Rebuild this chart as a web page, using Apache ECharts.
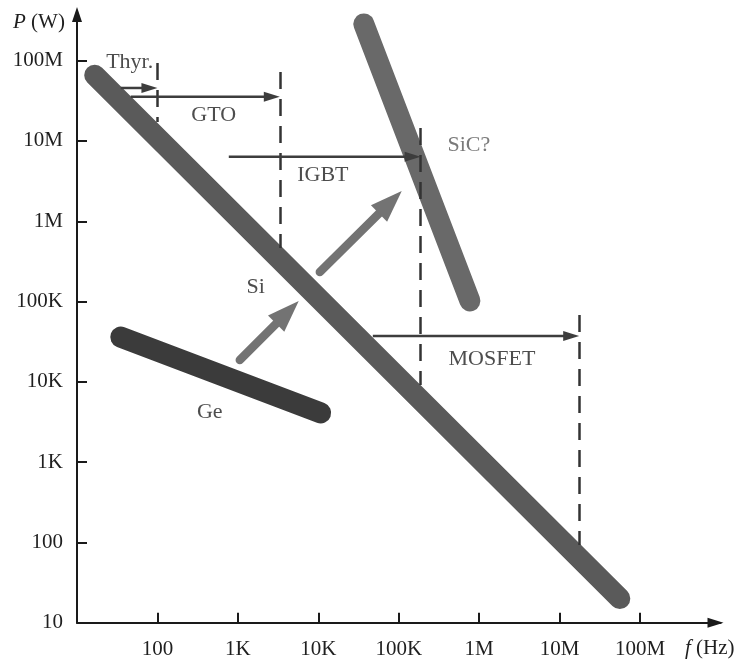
<!DOCTYPE html>
<html>
<head>
<meta charset="utf-8">
<script src="https://cdn.jsdelivr.net/npm/echarts@6/dist/echarts.min.js"></script>
<style>
html, body { margin: 0; padding: 0; background: #fff; }
#chart { width: 739px; height: 663px; }
</style>
</head>
<body>
<div id="chart"></div>
<script>
// Tick positions and their labels (log scales)
const xTickValues = [1e2, 1e3, 1e4, 1e5, 1e6, 1e7, 1e8];
const xTickLabels = ['100', '1K', '10K', '100K', '1M', '10M', '100M'];
const yTickValues = [1e1, 1e2, 1e3, 1e4, 1e5, 1e6, 1e7, 1e8];
const yTickLabels = ['10', '100', '1K', '10K', '100K', '1M', '10M', '100M'];

// Material bands: [frequency (Hz), power (W)] end points
const siBand = [[16.6, 6.6e7], [5.6e7, 20]];
const geBand = [[35, 36100], [10700, 4100]];
const sicBand = [[36800, 2.87e8], [7.66e5, 1.02e5]];

// Technology progression arrows: [tail f, tail P, head f, head P]
const trendArrows = [
  [1057, 18700, 5710, 101600],
  [10450, 233000, 109000, 2.38e6]
];

// Device operating ranges: horizontal arrows [start f, P, max f, P]
const deviceArrows = [
  [35, 4.57e7, 100, 4.57e7],
  [46.6, 3.56e7, 3320, 3.56e7],
  [771, 6.37e6, 1.87e5, 6.37e6],
  [47600, 37200, 1.75e7, 37200]
];

// Frequency limits: vertical dashed markers
const limitMarkers = [
  [[100, 9.36e7], [100, 1.72e7]],
  [[3320, 7.23e7], [3320, 4.65e5]],
  [[1.87e5, 1.45e7], [1.87e5, 9140]],
  [[1.75e7, 67900], [1.75e7, 93]]
];

// Text annotations
const annotationNames = ['Thyr.', 'GTO', 'IGBT', 'SiC?', 'Si', 'Ge', 'MOSFET'];
const annotationFreq = [45.2, 501, 11380, 745000, 1670, 447, 1.44e6];
const annotationPower = [9.6e7, 2.1e7, 3.77e6, 8.9e6, 151700, 4210, 19200];

const SERIF = "'Liberation Serif', 'Times New Roman', serif";

function tickText(values, labels) {
  return function (v) {
    const e = Math.round(Math.log10(v));
    const i = values.findIndex(t => Math.round(Math.log10(t)) === e);
    return i >= 0 ? labels[i] : '';
  };
}

// Arrow glyph: shaft plus filled triangular head whose tip sits on the head point
function arrowRenderer(color, width, headLen, headWidth, cap) {
  return function (params, api) {
    const p0 = api.coord([api.value(0), api.value(1)]);
    const p1 = api.coord([api.value(2), api.value(3)]);
    const dx = p1[0] - p0[0], dy = p1[1] - p0[1];
    const len = Math.sqrt(dx * dx + dy * dy) || 1;
    const ux = dx / len, uy = dy / len;
    const nx = -uy, ny = ux;
    const bx = p1[0] - ux * headLen, by = p1[1] - uy * headLen;
    return {
      type: 'group',
      children: [
        {
          type: 'line',
          shape: { x1: p0[0], y1: p0[1], x2: bx + ux, y2: by + uy },
          style: { stroke: color, lineWidth: width, lineCap: cap }
        },
        {
          type: 'polygon',
          shape: {
            points: [
              [p1[0], p1[1]],
              [bx + nx * headWidth / 2, by + ny * headWidth / 2],
              [bx - nx * headWidth / 2, by - ny * headWidth / 2]
            ]
          },
          style: { fill: color }
        }
      ]
    };
  };
}

const chart = echarts.init(document.getElementById('chart'));

chart.setOption({
  animation: false,
  backgroundColor: '#ffffff',
  grid: { left: 77, right: 18.5, top: 12.5, bottom: 40.3, containLabel: false },
  xAxis: {
    type: 'log',
    logBase: 10,
    min: 10,
    max: 1e9,
    axisLine: {
      show: true,
      lineStyle: { color: '#1a1a1a', width: 2 },
      symbol: ['none', 'triangle'],
      symbolSize: [10, 16],
      symbolOffset: [0, -5]
    },
    axisTick: {
      show: true, inside: true, length: 10, customValues: xTickValues,
      lineStyle: { color: '#1a1a1a', width: 2 }
    },
    axisLabel: {
      show: true, customValues: xTickValues, margin: 16,
      formatter: tickText(xTickValues, xTickLabels),
      fontFamily: SERIF, fontSize: 21, color: '#1f1f1f'
    },
    splitLine: { show: false },
    minorTick: { show: false }
  },
  yAxis: {
    type: 'log',
    logBase: 10,
    min: 10,
    max: Math.pow(10, 8.6),
    axisLine: {
      show: true,
      lineStyle: { color: '#1a1a1a', width: 2 },
      symbol: ['none', 'triangle'],
      symbolSize: [10, 15],
      symbolOffset: [0, -2]
    },
    axisTick: {
      show: true, inside: true, length: 10, customValues: yTickValues,
      lineStyle: { color: '#1a1a1a', width: 2 }
    },
    axisLabel: {
      show: true, customValues: yTickValues, margin: 14,
      formatter: tickText(yTickValues, yTickLabels),
      fontFamily: SERIF, fontSize: 21, color: '#1f1f1f'
    },
    splitLine: { show: false },
    minorTick: { show: false }
  },
  graphic: [
    {
      type: 'text', left: 13, top: 12, silent: true,
      style: {
        text: '{i|P} (W)',
        font: '21px ' + SERIF, fill: '#1f1f1f',
        rich: { i: { fontStyle: 'italic', fontFamily: SERIF, fontSize: 21, fill: '#1f1f1f' } }
      }
    },
    {
      type: 'text', left: 685, top: 638, silent: true,
      style: {
        text: '{i|f} (Hz)',
        font: '21px ' + SERIF, fill: '#1f1f1f',
        rich: { i: { fontStyle: 'italic', fontFamily: SERIF, fontSize: 21, fill: '#1f1f1f' } }
      }
    }
  ],
  series: [
    {
      name: 'Ge', type: 'line', data: geBand, showSymbol: false, silent: true, z: 2,
      lineStyle: { width: 21, cap: 'round', color: '#3b3b3b' }
    },
    {
      name: 'SiC', type: 'line', data: sicBand, showSymbol: false, silent: true, z: 2,
      lineStyle: { width: 21, cap: 'round', color: '#696969' }
    },
    {
      name: 'Si', type: 'line', data: siBand, showSymbol: false, silent: true, z: 2,
      lineStyle: { width: 21, cap: 'round', color: '#5a5a5a' }
    },
    {
      name: 'trend', type: 'custom', coordinateSystem: 'cartesian2d', silent: true, z: 3,
      data: trendArrows,
      renderItem: arrowRenderer('#737373', 8.5, 32, 23, 'round')
    },
    {
      name: 'limits', type: 'lines', coordinateSystem: 'cartesian2d', silent: true, z: 4,
      data: limitMarkers.map(p => ({ coords: p })),
      symbol: ['none', 'none'],
      lineStyle: { color: '#333333', width: 2.5, opacity: 1, type: [17, 10], curveness: 0 }
    },
    {
      name: 'devices', type: 'custom', coordinateSystem: 'cartesian2d', silent: true, z: 4,
      data: deviceArrows,
      renderItem: arrowRenderer('#3d3d3d', 2.5, 16, 10, 'butt')
    },
    {
      name: 'labels', type: 'scatter', silent: true, z: 5,
      symbol: 'circle', symbolSize: 1,
      itemStyle: { color: 'rgba(0,0,0,0)' },
      data: annotationNames.map((n, i) => ({
        name: n,
        value: [annotationFreq[i], annotationPower[i]],
        label: { color: n === 'SiC?' ? '#7a7a7a' : '#4d4d4d' }
      })),
      label: {
        show: true, position: 'inside', formatter: '{b}',
        fontFamily: SERIF, fontSize: 22, opacity: 1
      }
    }
  ]
});
</script>
</body>
</html>
